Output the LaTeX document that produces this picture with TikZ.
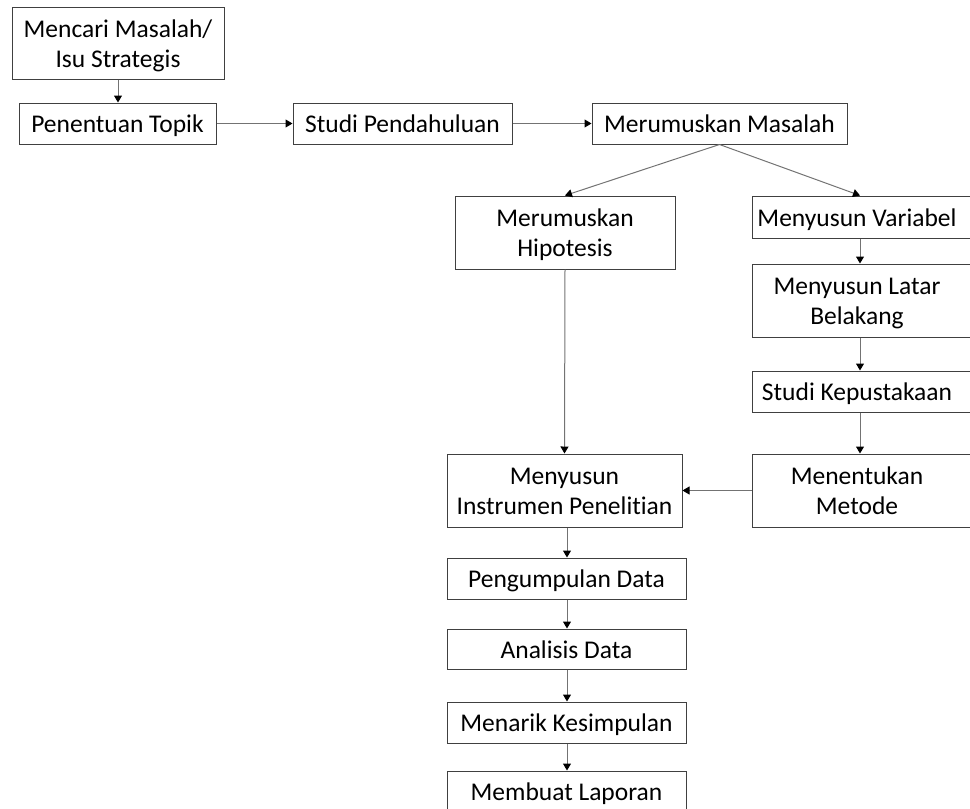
\documentclass[tikz,border=0pt]{standalone}
\usepackage{fontspec}
\setmainfont{Carlito}[Ligatures=CommonOff]
\usetikzlibrary{arrows.meta}
\newcommand\bxt[1]{\raisebox{-3pt}[\height][\depth]{\begin{tabular}{@{}c@{}}#1\end{tabular}}}
\newcommand\rbxt[1]{\hspace*{-16pt}\bxt{#1}}
\tikzset{
  box/.style={draw=black!75, line width=1pt, fill=white, align=center, inner sep=0pt,
    font=\fontsize{25.5}{30}\selectfont},
  arr/.style={draw=black!55, line width=1pt, -{Triangle[width=8pt,length=7pt,color=black]}}
}
\begin{document}
\begin{tikzpicture}[x=1pt,y=-1pt]
\useasboundingbox (0,0) rectangle (970,809);
\clip (0,0) rectangle (970,809);
\node[box, minimum width=212, minimum height=72] (m1) at (118,43) {\bxt{Mencari Masalah/\\Isu Strategis}};
\node[box, minimum width=197, minimum height=41] (topik) at (117.5,123.5) {\bxt{Penentuan Topik}};
\node[box, minimum width=219, minimum height=41] (studi) at (402.5,123.5) {\bxt{Studi Pendahuluan}};
\node[box, minimum width=255, minimum height=41] (masalah) at (719.5,123.5) {\bxt{Merumuskan Masalah}};
\node[box, minimum width=220, minimum height=73] (hipo) at (565,232.5) {\bxt{Merumuskan\\Hipotesis}};
\node[box, minimum width=226, minimum height=42] (var) at (865,217) {\rbxt{Menyusun Variabel}};
\node[box, minimum width=226, minimum height=73] (latar) at (865,300.5) {\rbxt{Menyusun Latar\\Belakang}};
\node[box, minimum width=226, minimum height=41] (pustaka) at (865,391.5) {\rbxt{Studi Kepustakaan}};
\node[box, minimum width=226, minimum height=73] (metode) at (865,490.5) {\rbxt{Menentukan\\Metode}};
\node[box, minimum width=235, minimum height=73] (instr) at (564.5,490.5) {\bxt{Menyusun\\Instrumen Penelitian}};
\node[box, minimum width=239, minimum height=41] (kumpul) at (566.5,578.5) {\bxt{Pengumpulan Data}};
\node[box, minimum width=239, minimum height=40] (analisis) at (566.5,649) {\bxt{Analisis Data}};
\node[box, minimum width=239, minimum height=41] (simpul) at (566.5,722.5) {\bxt{Menarik Kesimpulan}};
\node[box, minimum width=239, minimum height=41] (lapor) at (566.5,791.5) {\bxt{Membuat Laporan}};
\coordinate (rx) at (860,0);
\coordinate (cx) at (567,0);
\draw[arr] (m1.south) -- (topik.north -| m1.south);
\draw[arr] (topik.east) -- (studi.west);
\draw[arr] (studi.east) -- (masalah.west);
\draw[arr] (masalah.south) -- (hipo.north);
\draw[arr] (masalah.south) -- (var.north -| rx);
\draw[arr] (hipo.south) -- (instr.north);
\draw[arr] (var.south -| rx) -- (latar.north -| rx);
\draw[arr] (latar.south -| rx) -- (pustaka.north -| rx);
\draw[arr] (pustaka.south -| rx) -- (metode.north -| rx);
\draw[arr] (metode.west) -- (instr.east);
\draw[arr] (instr.south -| cx) -- (kumpul.north -| cx);
\draw[arr] (kumpul.south -| cx) -- (analisis.north -| cx);
\draw[arr] (analisis.south -| cx) -- (simpul.north -| cx);
\draw[arr] (simpul.south -| cx) -- (lapor.north -| cx);
\end{tikzpicture}
\end{document}
